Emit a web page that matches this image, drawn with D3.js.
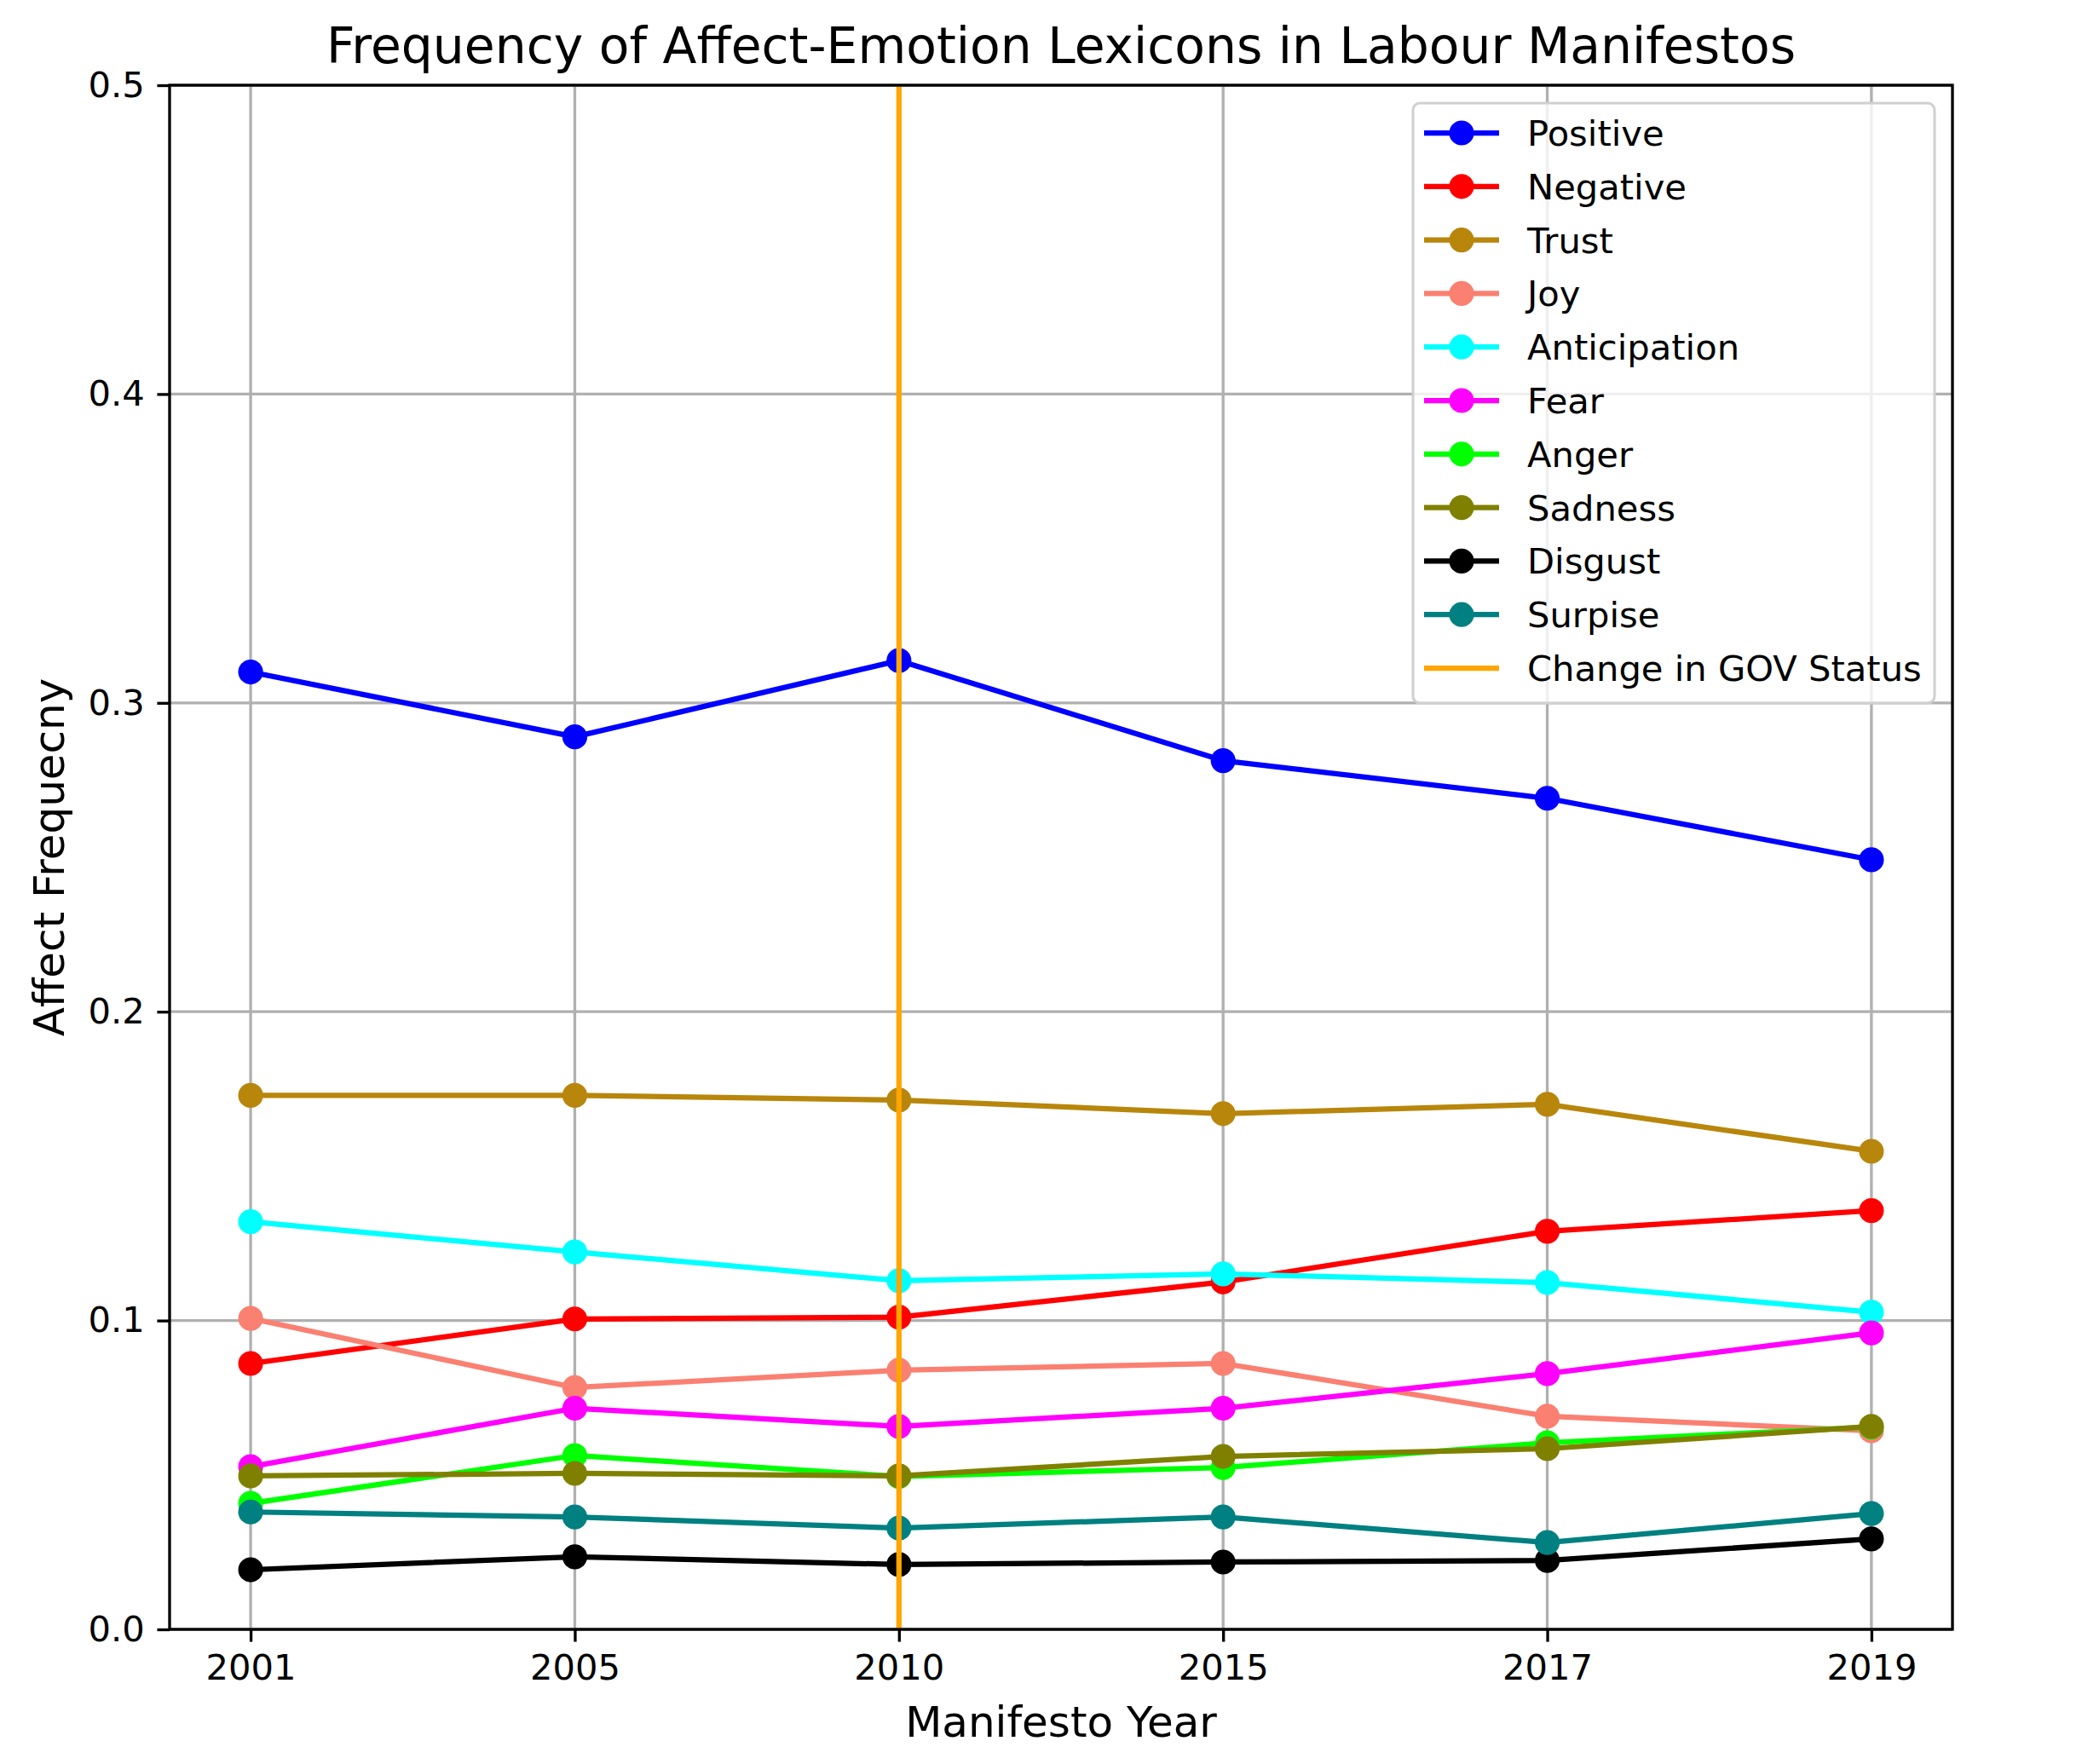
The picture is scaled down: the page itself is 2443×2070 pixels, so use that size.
<!DOCTYPE html>
<html>
<head>
<meta charset="utf-8">
<script src="https://cdn.jsdelivr.net/npm/d3@7"></script>
<style>
  html, body { margin: 0; padding: 0; background: #fff; }
  svg { display: block; font-family: "DejaVu Sans", sans-serif; }
</style>
</head>
<body>
<svg id="chart" width="2443" height="2070"></svg>
<script>
const years = ["2001", "2005", "2010", "2015", "2017", "2019"];
const yTicks = [0.0, 0.1, 0.2, 0.3, 0.4, 0.5];

const positive     = [0.310, 0.289, 0.3137, 0.2813, 0.2691, 0.2492];
const negative     = [0.0861, 0.1005, 0.1011, 0.1125, 0.1289, 0.1356];
const trust        = [0.1729, 0.1729, 0.1714, 0.1670, 0.1700, 0.1548];
const joy          = [0.1007, 0.0783, 0.0839, 0.0861, 0.0690, 0.0643];
const anticipation = [0.1320, 0.1222, 0.1129, 0.1151, 0.1123, 0.1027];
const fear         = [0.0527, 0.0716, 0.0657, 0.0716, 0.0828, 0.0960];
const anger        = [0.0408, 0.0563, 0.0495, 0.0524, 0.0604, 0.0655];
const sadness      = [0.0497, 0.0505, 0.0497, 0.0560, 0.0585, 0.0657];
const disgust      = [0.0193, 0.0235, 0.0210, 0.0218, 0.0223, 0.0293];
const surprise     = [0.0380, 0.0364, 0.0328, 0.0364, 0.0281, 0.0375];

const seriesNames  = ["Positive", "Negative", "Trust", "Joy", "Anticipation", "Fear", "Anger", "Sadness", "Disgust", "Surpise"];
const seriesValues = [positive, negative, trust, joy, anticipation, fear, anger, sadness, disgust, surprise];
const seriesColors = ["#0000ff", "#ff0000", "#b8860b", "#fa8072", "#00ffff", "#ff00ff", "#00ff00", "#808000", "#000000", "#008080"];
const changeYear = "2010";
const changeLabel = "Change in GOV Status";

const svg = d3.select("#chart");
const L = 199, R = 2291, T = 100, B = 1912;
const PT = 300 / 72;

const x = d3.scaleLinear().domain([-0.25, years.length - 1 + 0.25]).range([L, R]);
const y = d3.scaleLinear().domain([0, 0.5]).range([B, T]);

// grid
const grid = svg.append("g");
grid.selectAll(".vg").data(years).enter().append("line")
  .attr("x1", (d, i) => x(i)).attr("x2", (d, i) => x(i))
  .attr("y1", T).attr("y2", B)
  .attr("stroke", "#b0b0b0").attr("stroke-width", 0.8 * PT);
grid.selectAll(".hg").data(yTicks).enter().append("line")
  .attr("x1", L).attr("x2", R)
  .attr("y1", d => y(d)).attr("y2", d => y(d))
  .attr("stroke", "#b0b0b0").attr("stroke-width", 0.8 * PT);

// axes
const xAxis = d3.axisBottom(x).tickValues(d3.range(years.length))
  .tickFormat(i => years[i]).tickSize(3.5 * PT).tickPadding(3.5 * PT).tickSizeOuter(0);
const yAxis = d3.axisLeft(y).tickValues(yTicks)
  .tickFormat(d3.format(".1f")).tickSize(3.5 * PT).tickPadding(3.5 * PT).tickSizeOuter(0);

const gx = svg.append("g").attr("transform", `translate(0,${B})`).call(xAxis);
const gy = svg.append("g").attr("transform", `translate(${L},0)`).call(yAxis);
[gx, gy].forEach(g => {
  g.select(".domain").remove();
  g.selectAll(".tick line").attr("stroke", "#000").attr("stroke-width", 0.8 * PT);
  g.selectAll(".tick text").attr("fill", "#000")
    .style("font-family", "DejaVu Sans").style("font-size", (10 * PT) + "px");
});

// series
const line = d3.line().x((d, i) => x(i)).y(d => y(d));
seriesValues.forEach((vals, k) => {
  const g = svg.append("g");
  g.append("path").datum(vals).attr("d", line)
    .attr("fill", "none").attr("stroke", seriesColors[k])
    .attr("stroke-width", 1.5 * PT).attr("stroke-linejoin", "round").attr("stroke-linecap", "square");
  g.selectAll("circle").data(vals).enter().append("circle")
    .attr("cx", (d, i) => x(i)).attr("cy", d => y(d)).attr("r", 3.5 * PT)
    .attr("fill", seriesColors[k]);
});

// change line
const ci = years.indexOf(changeYear);
svg.append("line")
  .attr("x1", x(ci)).attr("x2", x(ci)).attr("y1", T).attr("y2", B)
  .attr("stroke", "#ffa500").attr("stroke-width", 1.5 * PT);

// frame
svg.append("rect").attr("x", L).attr("y", T).attr("width", R - L).attr("height", B - T)
  .attr("fill", "none").attr("stroke", "#000").attr("stroke-width", 0.8 * PT);

// legend
const lg = svg.append("g");
lg.append("rect").attr("x", 1658).attr("y", 121).attr("width", 612).attr("height", 704)
  .attr("rx", 8).attr("ry", 8)
  .attr("fill", "#fff").attr("fill-opacity", 0.8)
  .attr("stroke", "#d0d0d0").attr("stroke-width", 3);
const entries = seriesNames.map((n, k) => ({ name: n, color: seriesColors[k], marker: true }))
  .concat([{ name: changeLabel, color: "#ffa500", marker: false }]);
const rowY = i => 156 + i * 62.8;
entries.forEach((e, i) => {
  lg.append("line").attr("x1", 1671).attr("x2", 1759)
    .attr("y1", rowY(i)).attr("y2", rowY(i))
    .attr("stroke", e.color).attr("stroke-width", 1.5 * PT);
  if (e.marker) {
    lg.append("circle").attr("cx", 1715).attr("cy", rowY(i)).attr("r", 3.5 * PT).attr("fill", e.color);
  }
  lg.append("text").attr("x", 1792).attr("y", rowY(i) + 15)
    .style("font-size", (10 * PT) + "px").attr("fill", "#000").text(e.name);
});

// title and labels
svg.append("text").attr("x", (L + R) / 2).attr("y", 74).attr("text-anchor", "middle")
  .style("font-size", (14 * PT) + "px").attr("fill", "#000")
  .text("Frequency of Affect-Emotion Lexicons in Labour Manifestos");
svg.append("text").attr("x", (L + R) / 2).attr("y", 2038).attr("text-anchor", "middle")
  .style("font-size", (12 * PT) + "px").attr("fill", "#000").text("Manifesto Year");
svg.append("text").attr("transform", `translate(75,${(T + B) / 2}) rotate(-90)`)
  .attr("text-anchor", "middle")
  .style("font-size", (12 * PT) + "px").attr("fill", "#000").text("Affect Frequecny");
</script>
</body>
</html>
